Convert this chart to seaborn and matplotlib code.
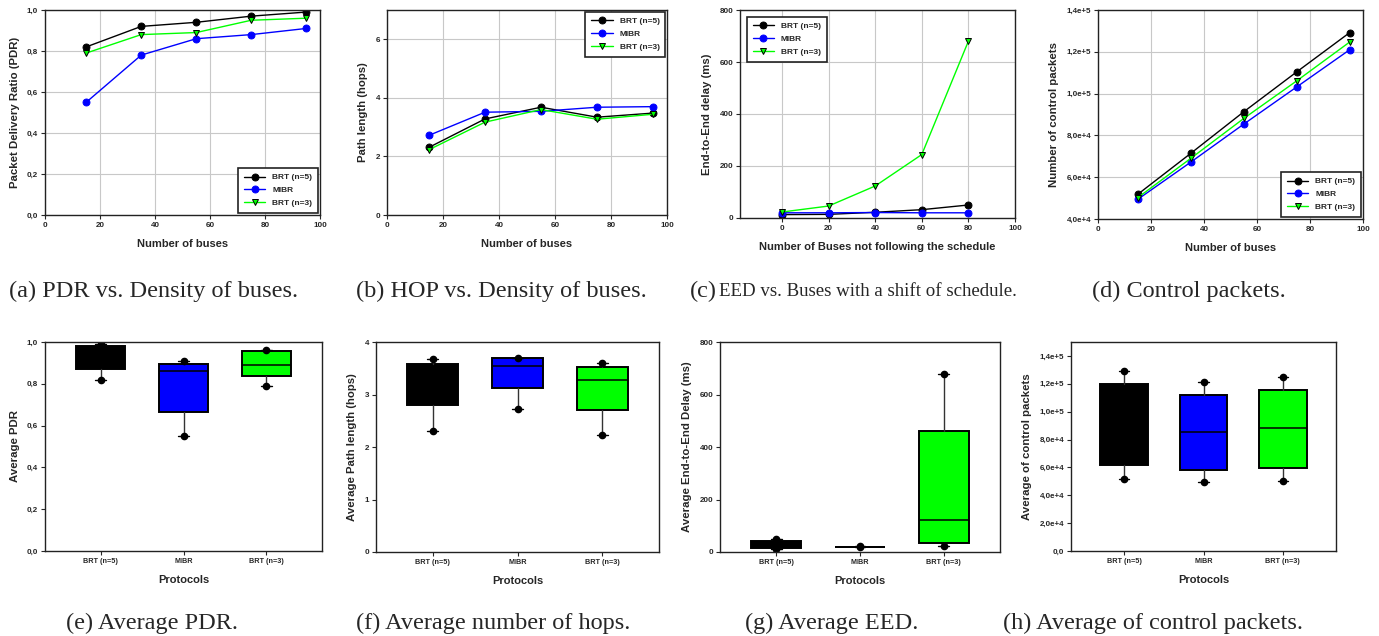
import numpy as np
import seaborn as sns
import matplotlib.pyplot as plt
from matplotlib.ticker import FuncFormatter, MultipleLocator

# x values
buses = [15, 35, 55, 75, 95]
shifted = [0, 20, 40, 60, 80]
protocols = ['BRT (n=5)', 'MIBR', 'BRT (n=3)']

# packet delivery ratio
pdr_brt5 = [0.82, 0.92, 0.94, 0.97, 0.99]
pdr_mibr = [0.55, 0.78, 0.86, 0.88, 0.91]
pdr_brt3 = [0.79, 0.88, 0.89, 0.95, 0.96]

# path length (hops)
hop_brt5 = [2.31, 3.28, 3.68, 3.34, 3.48]
hop_mibr = [2.72, 3.51, 3.54, 3.68, 3.70]
hop_brt3 = [2.23, 3.17, 3.60, 3.27, 3.44]

# end-to-end delay (ms)
eed_brt5 = [13, 14, 22, 32, 50]
eed_mibr = [20, 20, 21, 20, 20]
eed_brt3 = [23, 46, 123, 244, 680]

# control packets
ctrl_brt5 = [51800, 71400, 91300, 110400, 129200]
ctrl_mibr = [49400, 67200, 85400, 103200, 121000]
ctrl_brt3 = [50200, 69000, 88100, 106100, 124700]

colors = {'BRT (n=5)': '#000000', 'MIBR': '#0000ff', 'BRT (n=3)': '#00ff00'}
markers = {'BRT (n=5)': 'o', 'MIBR': 'o', 'BRT (n=3)': 'v'}
edges = {'BRT (n=5)': '#000000', 'MIBR': '#0000ff', 'BRT (n=3)': '#000000'}

sns.set_theme(style='ticks')
plt.rcParams['font.family'] = ['Liberation Sans', 'DejaVu Sans']
plt.rcParams['font.weight'] = 'bold'
plt.rcParams['axes.labelweight'] = 'bold'

W, H = 1379, 636
fig = plt.figure(figsize=(W / 100, H / 100), dpi=100)


def add_ax(l, t, r, b):
    return fig.add_axes([l / W, 1 - b / H, (r - l) / W, (b - t) / H])


def comma(v, p):
    return f'{v:.1f}'.replace('.', ',')


def sci(v, p):
    if v == 0:
        return '0,0'
    e = int(np.floor(np.log10(abs(v)) + 1e-9))
    return f'{v / 10 ** e:.1f}'.replace('.', ',') + f'e+{e}'


def style(ax, xlabel, ylabel, grid):
    for s in ax.spines.values():
        s.set_color('#222222')
        s.set_linewidth(1.0)
        s.set_visible(True)
    ax.tick_params(labelsize=5.8, length=3, width=0.8, pad=2)
    for lab in ax.get_xticklabels() + ax.get_yticklabels():
        lab.set_fontweight('bold')
    ax.set_xlabel(xlabel, fontsize=8, fontweight='bold', labelpad=7)
    ax.set_ylabel(ylabel, fontsize=8.2, fontweight='bold', labelpad=5)
    if grid:
        ax.grid(True, color='#c8c8c8', linewidth=0.8)
        ax.set_axisbelow(True)


def line_panel(ax, x, series, loc, pad):
    for name, vals in zip(protocols, series):
        sns.lineplot(x=x, y=vals, ax=ax, color=colors[name], marker=markers[name],
                     markersize=5, mec=edges[name], mew=0.7, mfc=colors[name],
                     lw=1.0, label=name)
    leg = ax.legend(loc=loc, borderaxespad=pad, fancybox=False, edgecolor='#222222',
                    prop={'weight': 'bold', 'size': 6}, handlelength=2.6,
                    borderpad=0.7, labelspacing=0.6, framealpha=1)
    leg.get_frame().set_linewidth(1.2)


def box_panel(ax, groups):
    stats = []
    for name, vals in zip(protocols, groups):
        v = np.asarray(vals, dtype=float)
        q1, med, q3 = np.percentile(v, [25, 50, 75], method='weibull')
        stats.append(dict(label=name, med=med, q1=q1, q3=q3, whislo=v.min(),
                          whishi=v.max(), fliers=[v.min(), v.max()]))
    bp = ax.bxp(stats, positions=[0, 1, 2], widths=0.6, patch_artist=True,
                capwidths=0.13,
                boxprops=dict(edgecolor='black', linewidth=1.4),
                whiskerprops=dict(color='#333333', linewidth=1.0),
                capprops=dict(color='black', linewidth=1.0),
                medianprops=dict(color='black', linewidth=1.1),
                flierprops=dict(marker='o', markerfacecolor='black',
                                markeredgecolor='black', markersize=4.5))
    for patch, name in zip(bp['boxes'], protocols):
        patch.set_facecolor(colors[name])
    ax.set_xlim(-0.67, 2.67)
    ax.set_xticks([0, 1, 2])
    ax.set_xticklabels(protocols)


# (a) PDR
ax = add_ax(45, 10, 320, 215)
line_panel(ax, buses, [pdr_brt5, pdr_mibr, pdr_brt3], 'lower right', 0.25)
ax.set_xlim(0, 100)
ax.set_ylim(0, 1.0)
ax.xaxis.set_major_locator(MultipleLocator(20))
ax.yaxis.set_major_locator(MultipleLocator(0.2))
ax.yaxis.set_major_formatter(FuncFormatter(comma))
style(ax, 'Number of buses', 'Packet Delivery Ratio (PDR)', True)

# (b) hops
ax = add_ax(387, 10, 667, 215)
line_panel(ax, buses, [hop_brt5, hop_mibr, hop_brt3], 'upper right', 0.2)
ax.set_xlim(0, 100)
ax.set_ylim(0, 7)
ax.xaxis.set_major_locator(MultipleLocator(20))
ax.yaxis.set_major_locator(MultipleLocator(2))
style(ax, 'Number of buses', 'Path length (hops)', True)

# (c) EED vs shifted buses
ax = add_ax(740, 10, 1015, 218)
line_panel(ax, shifted, [eed_brt5, eed_mibr, eed_brt3], 'upper left', 0.8)
ax.set_xlim(-18, 100)
ax.set_ylim(0, 800)
ax.set_xticks([0, 20, 40, 60, 80, 100])
ax.yaxis.set_major_locator(MultipleLocator(200))
style(ax, 'Number of Buses not following the schedule', 'End-to-End delay (ms)', True)

# (d) control packets
ax = add_ax(1098, 10, 1363, 219)
line_panel(ax, buses, [ctrl_brt5, ctrl_mibr, ctrl_brt3], 'lower right', 0.25)
ax.set_xlim(0, 100)
ax.set_ylim(40000, 140000)
ax.xaxis.set_major_locator(MultipleLocator(20))
ax.yaxis.set_major_locator(MultipleLocator(20000))
ax.yaxis.set_major_formatter(FuncFormatter(sci))
style(ax, 'Number of buses', 'Number of control packets', True)

# (e) average PDR
ax = add_ax(45, 342, 322, 551)
box_panel(ax, [pdr_brt5, pdr_mibr, pdr_brt3])
ax.set_ylim(0, 1.0)
ax.yaxis.set_major_locator(MultipleLocator(0.2))
ax.yaxis.set_major_formatter(FuncFormatter(comma))
style(ax, 'Protocols', 'Average PDR', False)
ax.tick_params(axis='x', labelsize=5.2)

# (f) average hops
ax = add_ax(376, 342, 659, 552)
box_panel(ax, [hop_brt5, hop_mibr, hop_brt3])
ax.set_ylim(0, 4)
ax.yaxis.set_major_locator(MultipleLocator(1))
style(ax, 'Protocols', 'Average Path length (hops)', False)
ax.tick_params(axis='x', labelsize=5.2)

# (g) average EED
ax = add_ax(720, 342, 1000, 552)
box_panel(ax, [eed_brt5, eed_mibr, eed_brt3])
ax.set_ylim(0, 800)
ax.yaxis.set_major_locator(MultipleLocator(200))
style(ax, 'Protocols', 'Average End-to-End Delay (ms)', False)
ax.tick_params(axis='x', labelsize=5.2)

# (h) average control packets
ax = add_ax(1071, 342, 1336, 551)
box_panel(ax, [ctrl_brt5, ctrl_mibr, ctrl_brt3])
ax.set_ylim(0, 150000)
ax.yaxis.set_major_locator(MultipleLocator(20000))
ax.yaxis.set_major_formatter(FuncFormatter(sci))
style(ax, 'Protocols', 'Average of control packets', False)
ax.tick_params(axis='x', labelsize=5.2)

# captions (left edges)
cap = dict(family=['Liberation Serif', 'DejaVu Serif'], fontweight='normal',
           va='center', ha='left', fontsize=17.5)
fig.text(9 / W, 1 - 291 / H, '(a) PDR vs. Density of buses.', **cap)
fig.text(356 / W, 1 - 291 / H, '(b) HOP vs. Density of buses.', **cap)
fig.text(690 / W, 1 - 291 / H, '(c)', **cap)
fig.text(719 / W, 1 - 292 / H, 'EED vs. Buses with a shift of schedule.',
         **{**cap, 'fontsize': 13.6})
fig.text(1092 / W, 1 - 291 / H, '(d) Control packets.', **cap)
fig.text(66 / W, 1 - 623 / H, '(e) Average PDR.', **cap)
fig.text(356 / W, 1 - 623 / H, '(f) Average number of hops.', **cap)
fig.text(745 / W, 1 - 623 / H, '(g) Average EED.', **cap)
fig.text(1003 / W, 1 - 623 / H, '(h) Average of control packets.', **cap)

fig.savefig('out.png', dpi=100)
